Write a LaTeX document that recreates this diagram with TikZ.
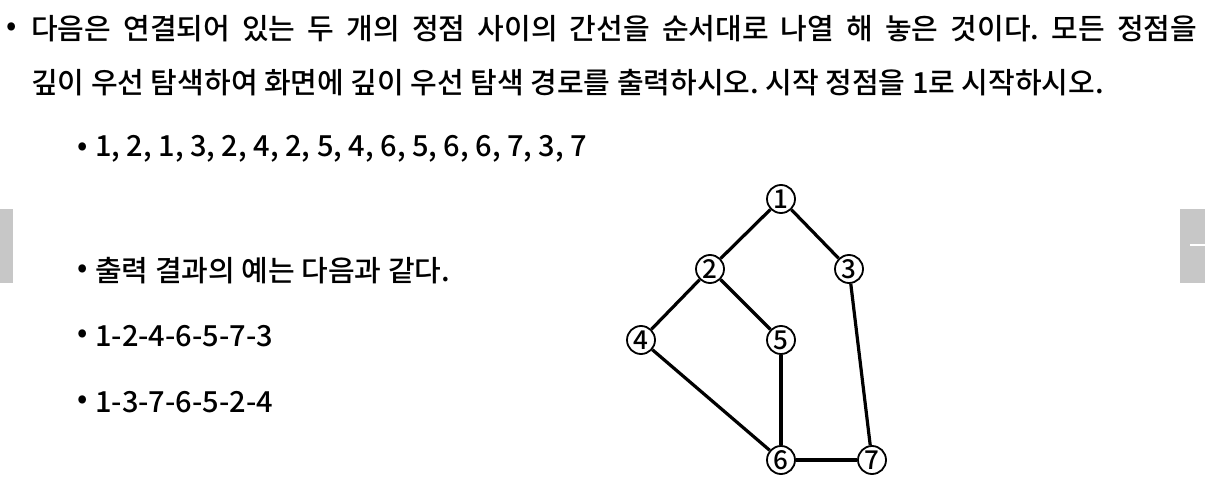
\documentclass[tikz,border=0pt]{standalone}
\usepackage{fontspec}
\setmainfont{Noto Sans CJK KR}[BoldFont={Noto Sans CJK KR Medium}]
\frenchspacing
\begin{document}
\begin{tikzpicture}[x=1pt,y=-1pt,
  txt/.style={anchor=west,inner sep=0pt,font=\fontsize{29}{34}\bfseries},
  vtx/.style={circle,draw,line width=1.8pt,minimum size=28pt,inner sep=0pt,font=\fontsize{26}{28}\bfseries},
  edge/.style={line width=3.2pt},
  navbox/.style={fill=black!22,draw=none}]
\useasboundingbox (0,0) rectangle (1205,489);
% nav boxes
\fill[navbox] (0,209) rectangle (13,283);
\fill[navbox] (1180,209) rectangle (1205,283);
\draw[white,line width=2pt] (1190,245) -- (1205,245);
% text
\node[txt] (b1) at (6,29) {•};
\node[txt] (t1) at (31,29) {\makebox[1166pt][s]{다음은 연결되어 있는 두 개의 정점 사이의 간선을 순서대로 나열 해 놓은 것이다. 모든 정점을}};
\node[txt] (t2) at (31,83) {깊이 우선 탐색하여 화면에 깊이 우선 탐색 경로를 출력하시오. 시작 정점을 1로 시작하시오.};
\node[txt] (b3) at (77,149) {•};
\node[txt] (t3) at (95,149) {1, 2, 1, 3, 2, 4, 2, 5, 4, 6, 5, 6, 6, 7, 3, 7};
\node[txt] (b4) at (77,271) {•};
\node[txt] (t4) at (95,271) {출력 결과의 예는 다음과 같다.};
\node[txt] (b5) at (77,336) {•};
\node[txt] (t5) at (95,336) {1-2-4-6-5-7-3};
\node[txt] (b6) at (77,402) {•};
\node[txt] (t6) at (95,402) {1-3-7-6-5-2-4};
% graph
\node[vtx] (n1) at (781,199) {1};
\node[vtx] (n2) at (710,269) {2};
\node[vtx] (n3) at (849,269) {3};
\node[vtx] (n4) at (641,340) {4};
\node[vtx] (n5) at (781,340) {5};
\node[vtx] (n6) at (781,460) {6};
\node[vtx] (n7) at (872,460) {7};
\draw[edge] (n1) -- (n2);
\draw[edge] (n1) -- (n3);
\draw[edge] (n2) -- (n4);
\draw[edge] (n2) -- (n5);
\draw[edge] (n4) -- (n6);
\draw[edge] (n5) -- (n6);
\draw[edge] (n6) -- (n7);
\draw[edge] (n3) -- (n7);
\end{tikzpicture}
\end{document}
